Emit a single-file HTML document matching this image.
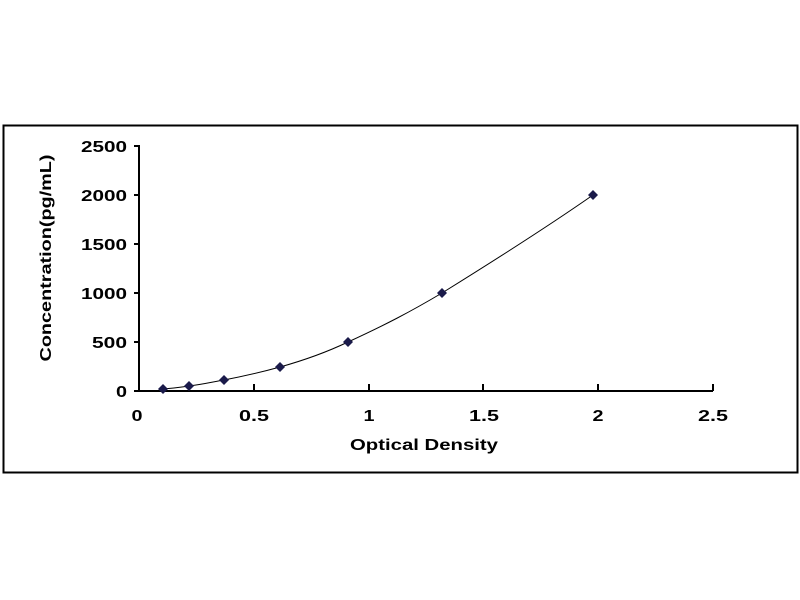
<!DOCTYPE html>
<html><head><style>body{margin:0;background:#fff}svg{display:block}</style></head><body>
<svg width="800" height="600" xmlns="http://www.w3.org/2000/svg" font-family="Liberation Sans, sans-serif" font-weight="bold">
<rect x="3.5" y="125.5" width="794" height="347" fill="#fff" stroke="#000" stroke-width="2"/>
<g stroke="#000" stroke-width="2" fill="none">
<line x1="139" y1="145" x2="139" y2="392"/>
<line x1="138" y1="391" x2="713" y2="391"/>
<line x1="134" y1="146" x2="139" y2="146"/>
<line x1="134" y1="195" x2="139" y2="195"/>
<line x1="134" y1="244" x2="139" y2="244"/>
<line x1="134" y1="293" x2="139" y2="293"/>
<line x1="134" y1="342" x2="139" y2="342"/>
<line x1="134" y1="391" x2="139" y2="391"/>
<line x1="254" y1="384" x2="254" y2="391"/>
<line x1="369" y1="384" x2="369" y2="391"/>
<line x1="483" y1="384" x2="483" y2="391"/>
<line x1="598" y1="384" x2="598" y2="391"/>
<line x1="713" y1="384" x2="713" y2="391"/>
</g>
<g font-size="16" text-anchor="end" fill="#000" lengthAdjust="spacingAndGlyphs">
<text x="127" y="152" textLength="46" lengthAdjust="spacingAndGlyphs">2500</text>
<text x="127" y="201" textLength="46" lengthAdjust="spacingAndGlyphs">2000</text>
<text x="127" y="250" textLength="46" lengthAdjust="spacingAndGlyphs">1500</text>
<text x="127" y="299" textLength="46" lengthAdjust="spacingAndGlyphs">1000</text>
<text x="127" y="348" textLength="35" lengthAdjust="spacingAndGlyphs">500</text>
<text x="127" y="397" textLength="11" lengthAdjust="spacingAndGlyphs">0</text>
</g>
<g font-size="16" text-anchor="middle" fill="#000">
<text x="137" y="421" textLength="11" lengthAdjust="spacingAndGlyphs">0</text>
<text x="254" y="421" textLength="30" lengthAdjust="spacingAndGlyphs">0.5</text>
<text x="369" y="421" textLength="11" lengthAdjust="spacingAndGlyphs">1</text>
<text x="484" y="421" textLength="30" lengthAdjust="spacingAndGlyphs">1.5</text>
<text x="598" y="421" textLength="11" lengthAdjust="spacingAndGlyphs">2</text>
<text x="713" y="421" textLength="30" lengthAdjust="spacingAndGlyphs">2.5</text>
</g>
<text x="424" y="450" font-size="16" text-anchor="middle" textLength="148" lengthAdjust="spacingAndGlyphs">Optical Density</text>
<text transform="translate(51,258) rotate(-90)" font-size="16" text-anchor="middle" textLength="207" lengthAdjust="spacingAndGlyphs">Concentration(pg/mL)</text>
<path d="M163,389 C176,388 181,387 189,386 C205,384 212,382 224,380 C245,376 262,372 280,367 C305,360 325,353 348,342 C385,325 410,312 442,293 C500,257 550,225 593,195" fill="none" stroke="#000" stroke-width="1"/>
<g fill="#1a1a4a">
<path d="M163,384 l5,5 l-5,5 l-5,-5z"/>
<path d="M189,381 l5,5 l-5,5 l-5,-5z"/>
<path d="M224,375 l5,5 l-5,5 l-5,-5z"/>
<path d="M280,362 l5,5 l-5,5 l-5,-5z"/>
<path d="M348,337 l5,5 l-5,5 l-5,-5z"/>
<path d="M442,288 l5,5 l-5,5 l-5,-5z"/>
<path d="M593,190 l5,5 l-5,5 l-5,-5z"/>
</g>
</svg>
</body></html>
